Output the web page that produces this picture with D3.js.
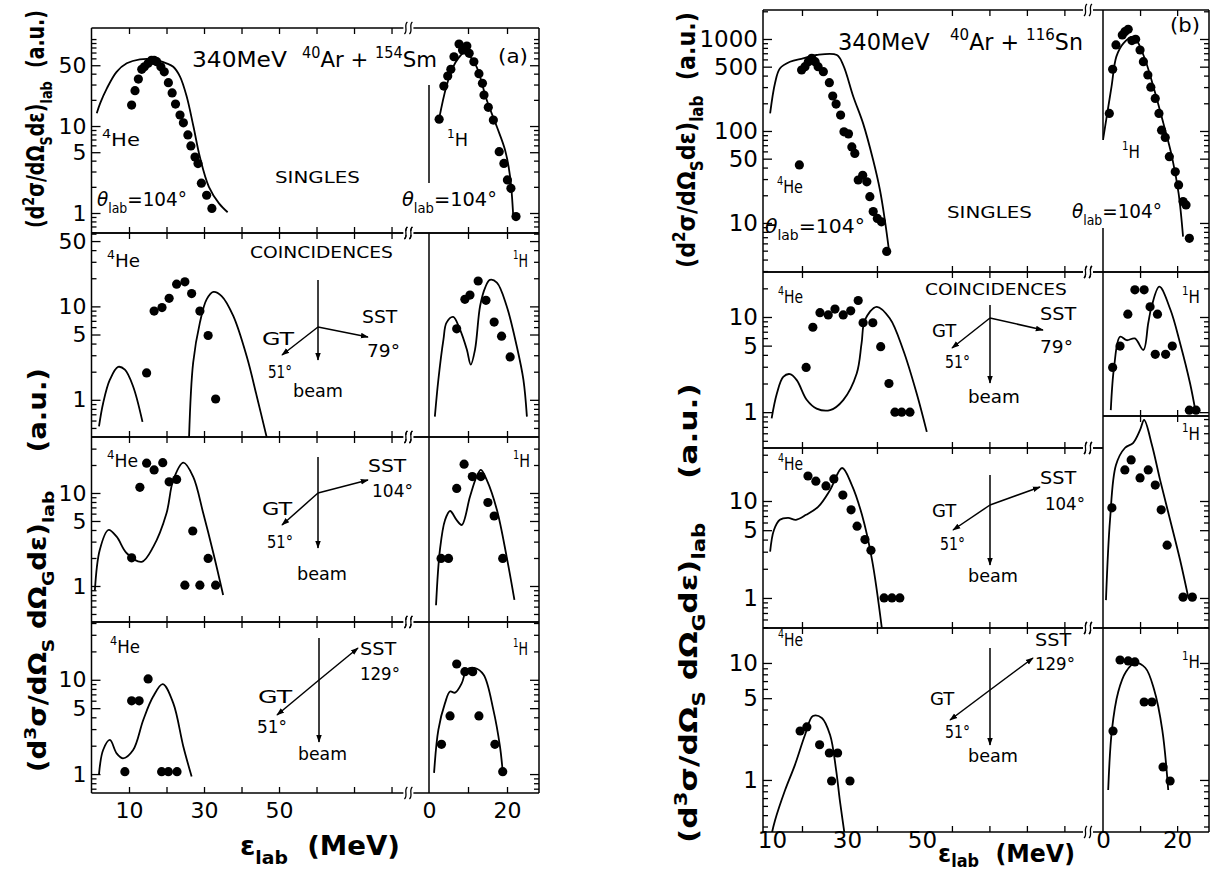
<!DOCTYPE html>
<html>
<head>
<meta charset="utf-8">
<script src="https://cdn.jsdelivr.net/npm/d3@7"></script>
<style>
  body { margin: 0; background: #fff; }
  svg { display: block; }
</style>
</head>
<body>
<script>
// energy spectra, [E_lab (MeV), yield (a.u.)]
// panel (a): 40Ar + 154Sm
const heA1 = [[10.7,17.4],[11.6,25.5],[12.5,34.7],[13.4,44.9],[14.1,48],[15.1,52.6],[16,57],[16.7,57],[17.4,55],[18.5,48],[19.4,42],[20.5,31.5],[21.5,24],[22.4,17.9],[23.6,13.4],[24.5,10.9],[25.7,7.9],[26.5,5.9],[27.6,4.4],[28.4,3.7],[29.3,2.2],[30.7,1.6],[32.1,1.13]];
const heA1Fit = [[1.4,14],[2.3,18.2],[4.1,27.1],[6.7,42],[9.4,52.6],[12.9,58.5],[16.5,58.5],[20,52.6],[21.8,48],[23.6,37],[25.4,21.7],[27.2,9.8],[28.9,4.4],[31.3,2.0],[34,1.29],[36.3,1.02]];
const hA1 = [[2.6,12],[3.8,28.8],[4.8,37.6],[5.6,44.9],[6.4,62.6],[7.7,87.7],[8.6,74.8],[9.7,83],[10.3,68.5],[11.5,54.8],[12.8,40],[13.7,31],[14.1,22.7],[15.2,16.4],[16.5,11.7],[18,5.07],[19.2,3.72],[20.1,2.4],[21,1.92],[22.3,0.91]];
const hA1Fit = [[2.6,12.2],[4.4,28],[6.2,48],[7.5,60],[8.8,68.5],[10.1,65.6],[12.2,48],[14.8,19.9],[17.4,9.8],[19.5,5.3],[20.8,2.6],[21.6,0.91]];

const heA2 = [[14.7,1.94],[16.7,8.9],[18.8,9.7],[20.7,12.2],[22.7,17.3],[24.9,18.3],[26.7,13.7],[28.9,8.9],[31.1,4.88],[33.1,1.02]];
const heA2FitLo = [[2,0.52],[3.1,0.92],[4.9,1.64],[7.1,2.25],[8.9,2.1],[11.1,1.39],[13.6,0.58]];
const heA2FitHi = [[26,0.38],[27.1,2.48],[28.9,6.7],[30.7,11.9],[32.5,14.3],[34.7,12.9],[37.8,7.9],[41.4,2.9],[44.1,1.08],[46.7,0.4]];
const hA2 = [[7.1,5.75],[9.2,11.9],[10.5,13.2],[12.6,18.7],[14.6,11.6],[16.7,6.8],[18.6,4.8],[20.8,2.88]];
const hA2Fit = [[1.5,0.66],[2.4,1.64],[3.7,4.4],[4.5,6.7],[6.2,7.7],[7.9,5.7],[9.7,3.45],[10.7,2.38],[11.8,3.45],[13.1,10.1],[14.4,15.9],[15.6,19.2],[17.4,18],[19.9,10.1],[22.5,3.74],[24.2,1.64],[25.1,0.66]];

const heA3 = [[10.7,2.01],[12.9,11.5],[14.7,20.9],[16.7,17.7],[19,21.2],[20.7,13.2],[22.7,14],[27,3.9],[24.9,1.02],[28.9,1.02],[31.1,1.98],[33.1,1.02]];
const heA3Fit = [[0.9,0.9],[2.2,2.44],[4.5,4],[6.7,3.39],[9.4,2.25],[13.4,1.82],[16.5,2.65],[20,6.05],[21.8,13.8],[24.5,21.2],[27.1,15],[29.8,6.05],[32.5,2.25],[35.1,0.8]];
const hA3 = [[3.1,1.98],[5,1.98],[7.1,11.2],[9,20.4],[11.1,15],[13.3,15],[15.1,7.9],[16.7,5.66],[18.9,1.98]];
const hA3Fit = [[1.8,0.62],[2.8,2.44],[4.1,5.1],[5.4,6.4],[7.1,5.1],[8.4,4.53],[10.5,9.1],[12.2,15],[13.3,17.7],[14.8,13.8],[17.4,6.6],[19.9,2.07],[21.9,0.71]];

const heA4 = [[8.9,1.06],[10.7,5.98],[12.7,5.98],[15.1,10.2],[18.7,1.06],[20.5,1.06],[22.8,1.06]];
const heA4Fit = [[2,1.0],[3.1,1.8],[4.9,2.3],[6.7,1.66],[8.4,1.47],[11.1,1.8],[13.8,3.75],[16.4,6.6],[19,9],[21.8,5.65],[24.5,1.95],[26.7,0.94]];
const hA4 = [[3.2,2.07],[5.4,4.14],[7.1,14.7],[9.2,12.2],[11.2,12.2],[12.8,4.14],[16.9,2.07],[18.9,1.06]];
const hA4Fit = [[1.3,1.03],[2.4,2.94],[4.1,5.65],[5.4,7.5],[6.7,7.3],[8.4,9.2],[9.7,12.8],[11.8,13.3],[14,11.3],[16.5,4.8],[18.2,1.95],[18.9,1.06]];

// panel (b): 40Ar + 116Sn
const heB1 = [[17.3,42.7],[17.9,460],[18.8,500],[19.7,566],[20.6,616],[21.5,566],[22.3,500],[23.7,441],[25.3,335],[26.2,240],[27.1,196],[28.3,149],[29.2,98],[30.4,93],[31.3,67],[32.1,57],[33,29.3],[34.2,33],[35.3,28],[36.1,19.3],[37,13.3],[38.1,11.2],[39.2,10.3],[40.6,4.9]];
const heB1Fit = [[9.5,155],[10.8,330],[12.1,478],[14.8,566],[18.3,616],[21.9,670],[27.3,670],[29,521],[31.7,236],[34.3,121],[37,48],[38.8,22.8],[40.1,10.8],[41.3,4.7]];
const hB1 = [[1.7,155],[2.6,469],[3.5,861],[5.2,1105],[5.9,1200],[6.8,1275],[7.8,960],[8.8,993],[10,759],[10.9,566],[12.1,406],[12.9,299],[14.1,226],[15.1,155],[15.8,102],[16.8,85],[17.9,52.6],[19.5,36],[20.4,25.9],[21.6,17.1],[22.4,15.7],[23.3,6.8]];
const hB1Fit = [[0,80],[1,143],[2.3,303],[3.6,643],[5.5,898],[8.2,1060],[10.9,670],[13.6,303],[16.3,121],[18.6,52.6],[20.4,21],[21.6,7.1]];

const heB2 = [[19.1,2.95],[20.9,7.8],[22.8,11.1],[25,10.5],[26.8,12.1],[29,10.5],[31,11.6],[33,14.9],[34.3,8.7],[36.9,8.7],[39,4.87],[41.2,2.0],[42.8,1.0],[44.6,1.0],[46.8,1.0]];
const heB2Fit = [[9.9,0.86],[11.3,1.57],[13,2.35],[14.8,2.51],[16.6,2.17],[19.3,1.34],[21.9,1.09],[25.5,1.05],[29,1.34],[32.6,2.55],[33.9,5.3],[34.8,9.3],[37.9,12.8],[41.4,9.7],[45,4.5],[48.6,1.57],[51.3,0.62]];
const hB2 = [[2.6,2.95],[4.6,4.95],[6.7,10.7],[8.6,19.3],[11.1,19.3],[12.7,12.8],[14.7,10.7],[14.1,4.05],[16.9,4.05],[18.7,4.95],[23.3,1.05],[25.1,1.05]];
const hB2Fit = [[2.1,1.05],[3,3.0],[4.6,6.2],[6.4,5.7],[8.6,5.95],[10.9,4.5],[12.2,8.6],[13.1,12.8],[15.2,20.8],[18.2,11.9],[20.8,5.3],[23.5,2.0],[24.9,1.05]];

const heB3 = [[19.6,18.1],[21.7,16],[24.4,14.3],[26.5,16.9],[28.9,11.5],[31.1,8.1],[32.7,5.5],[34.8,4.0],[36.4,3.1],[39.9,1.0],[42,1.0],[44.1,1.0]];
const heB3Fit = [[9.5,3.0],[10.5,5.0],[12.1,6.4],[14.3,6.7],[16.4,6.4],[19.1,7.2],[22.3,8.7],[25.5,13],[28.7,21.9],[31.3,14.6],[34,7.2],[36.7,2.46],[39.3,0.49]];
const hB3 = [[2.4,8.5],[5.9,20.9],[7.6,26.5],[10,17.3],[12.2,20.9],[14.1,14.6],[15.7,8.1],[17.3,3.5],[21.6,1.02],[24.1,1.02]];
const hB3Fit = [[0.8,0.95],[1.9,6.4],[3.5,23.5],[5.9,35.2],[8.1,39.6],[10,54],[11.1,68.4],[13.2,37.8],[15.4,16.5],[18.1,6.4],[20.8,2.46],[23,1.02]];

const heB4 = [[17.5,2.62],[19.3,2.84],[22.7,2.0],[25.3,1.7],[27.5,1.7],[25.9,0.98],[30.8,0.98]];
const heB4Fit = [[9.5,0.3],[10.8,0.45],[13.5,0.82],[16.1,1.34],[18.8,2.42],[20.9,3.52],[23.3,3.39],[25.5,2.42],[27.1,1.22],[28.1,0.67],[29.5,0.32]];
const hB4 = [[2.7,2.62],[4.6,10.6],[6.8,10.4],[8.6,10.2],[11.1,4.64],[13.2,4.64],[16.2,1.29],[18.1,0.98]];
const hB4Fit = [[1.4,0.82],[2.4,2.67],[4.1,5.65],[6.2,8.4],[8.6,10],[11.4,9.1],[13.8,5.9],[16,2.67],[17.6,0.82]];

// axes
const yDomA = [[0.589,134],[0.4,61],[0.41,40],[0.63,41]];
const yDomB = [[2.93,2066],[0.42,29.7],[0.49,35.2],[0.359,19.9]];
const yLabelsA = [[50,10,5,1],[50,10,5,1],[10,5,1],[10,5,1]];
const yLabelsB = [[1000,500,100,50,10],[10,5,1],[10,5,1],[10,5,1]];
const xTicksHeA = [10,20,30,40,50,60,70,80];
const xTicksHeB = [18,38,58,68,78,88];
const xTicksH = [10,20];
const xLabelsHe = [10,30,50];
const xLabelsH = [0,20];

const FONT = '"DejaVu Sans", sans-serif';
const svg = d3.select('body').append('svg')
  .attr('width', 1213).attr('height', 873)
  .style('font-family', FONT);
const defs = svg.append('defs');
defs.append('marker').attr('id', 'ah')
  .attr('viewBox', '0 0 10 10').attr('refX', 9).attr('refY', 5)
  .attr('markerWidth', 8).attr('markerHeight', 8)
  .attr('markerUnits', 'userSpaceOnUse').attr('orient', 'auto')
  .append('path').attr('d', 'M0,1.5L10,5L0,8.5Z');

function logTicks(lo, hi) {
  const out = [];
  for (let d = Math.floor(Math.log10(lo)); d <= Math.ceil(Math.log10(hi)); d++) {
    for (let k = 1; k < 10; k++) {
      const v = +(k * Math.pow(10, d)).toPrecision(3);
      if (v > lo * 1.01 && v < hi * 0.99) out.push(v);
    }
  }
  return out;
}

// text with sup/sub parts, stretched to span x0..x1
function rich(parent, parts, x0, x1, base, size, weight, subOff) {
  const t = parent.append('text').attr('x', x0).attr('y', base)
    .attr('font-size', size).attr('font-weight', weight || 'normal')
    .style('white-space', 'pre');
  let cur = 0;
  parts.forEach(([s, k]) => {
    const off = k === 'sup' ? -0.42 * size : k === 'sub' ? (subOff || 0.33) * size : 0;
    t.append('tspan').attr('dy', off - cur)
      .attr('font-size', (k === 'sup' || k === 'sub') ? size * 0.68 : size)
      .attr('font-style', k === 'i' ? 'italic' : null)
      .text(s);
    cur = off;
  });
  if (x1 != null) {
    const w = t.node().getBBox().width;
    const k = (x1 - x0) / w;
    t.attr('transform', `translate(${x0},${base}) scale(${k},1) translate(${-x0},${-base})`);
  }
  return t;
}

function vtitle(parts, xBase, yBot, yTop, size) {
  const g = svg.append('g').attr('transform', `translate(${xBase},${yBot}) rotate(-90)`);
  rich(g, parts, 0, yBot - yTop, 0, size, 'bold');
}

function line(x1, y1, x2, y2, arrow) {
  svg.append('line').attr('x1', x1).attr('y1', y1).attr('x2', x2).attr('y2', y2)
    .attr('stroke', '#000').attr('stroke-width', 1.5)
    .attr('marker-end', arrow ? 'url(#ah)' : null);
}

function brk(x, y) {
  svg.append('rect').attr('x', x - 5).attr('y', y - 2).attr('width', 10).attr('height', 4).attr('fill', '#fff');
  [-2.5, 2.5].forEach(dx => {
    svg.append('path')
      .attr('d', `M${x + dx - 1.5},${y + 6} C${x + dx + 2.5},${y + 3} ${x + dx - 2.5},${y - 3} ${x + dx + 1.5},${y - 6}`)
      .attr('fill', 'none').attr('stroke', '#000').attr('stroke-width', 1.3);
  });
}

function cleanAxis(g, fs) {
  g.select('.domain').remove();
  g.attr('font-family', FONT).attr('font-size', fs);
  g.selectAll('line').attr('stroke-width', 1.3);
}

function yAxis(gen, x, y, band, labels, fs, show) {
  const lo = y.invert(band[1]), hi = y.invert(band[0]);
  const major = labels.filter(v => v > lo && v < hi);
  const minor = logTicks(lo, hi).filter(v => !major.includes(v));
  svg.append('g').attr('transform', `translate(${x},0)`)
    .call(gen(y).tickValues(minor).tickSizeInner(-5).tickSizeOuter(0).tickFormat(''))
    .call(g => cleanAxis(g, fs));
  svg.append('g').attr('transform', `translate(${x},0)`)
    .call(gen(y).tickValues(major).tickSizeInner(-9).tickSizeOuter(0).tickPadding(5)
      .tickFormat(show ? d => d : ''))
    .call(g => cleanAxis(g, fs));
}

function xTicks(x, vals, band) {
  [[d3.axisTop, band[0]], [d3.axisBottom, band[1]]].forEach(([gen, yy]) => {
    svg.append('g').attr('transform', `translate(0,${yy})`)
      .call(gen(x).tickValues(vals).tickSizeInner(-6).tickSizeOuter(0).tickFormat(''))
      .call(g => cleanAxis(g, 10));
  });
}

function xLabels(x, vals, yy, pad, fs) {
  svg.append('g').attr('transform', `translate(0,${yy})`)
    .call(d3.axisBottom(x).tickValues(vals).tickSize(0).tickPadding(pad))
    .call(g => cleanAxis(g, fs));
}

function series(pts, fits, x, y, clip) {
  const ln = d3.line().x(d => x(d[0])).y(d => y(d[1])).curve(d3.curveCatmullRom.alpha(0.5));
  fits.forEach(f => {
    svg.append('path').datum(f).attr('d', ln)
      .attr('fill', 'none').attr('stroke', '#000').attr('stroke-width', 1.8)
      .attr('clip-path', `url(#${clip})`);
  });
  svg.append('g').selectAll('circle').data(pts).join('circle')
    .attr('cx', d => x(d[0])).attr('cy', d => y(d[1])).attr('r', 4.6).attr('fill', '#000');
}

function drawFig(f) {
  const [x0, xb] = f.he.range();
  const [xh, x1] = f.h.range();
  f.rows.forEach((r, i) => {
    const y = d3.scaleLog().domain(r.dom).range([r.he[1], r.he[0]]);
    const id = f.id + i;
    defs.append('clipPath').attr('id', 'he' + id).append('rect')
      .attr('x', x0).attr('y', r.he[0]).attr('width', xb - x0).attr('height', r.he[1] - r.he[0]);
    defs.append('clipPath').attr('id', 'h' + id).append('rect')
      .attr('x', xh).attr('y', r.h[0]).attr('width', x1 - xh).attr('height', r.h[1] - r.h[0]);
    series(r.hePts, r.heFit, f.he, y, 'he' + id);
    series(r.hPts, r.hFit, f.h, y, 'h' + id);
    yAxis(d3.axisLeft, x0, y, r.he, r.labels, f.fs, true);
    yAxis(d3.axisRight, x1, y, r.h, r.labels, f.fs, false);
    xTicks(f.he, f.heTicks, r.he);
    xTicks(f.h, xTicksH, r.h);
    if (i === f.rows.length - 1) {
      xLabels(f.he, xLabelsHe, r.he[1], f.pad, f.fs);
      xLabels(f.h, xLabelsH, r.h[1], f.pad, f.fs);
    }
    line(x0, r.he[0], xh, r.he[0]); line(x0, r.he[1], xh, r.he[1]);
    line(xh, r.h[0], x1, r.h[0]); line(xh, r.h[1], x1, r.h[1]);
    line(x0, r.he[0], x0, r.he[1]); line(x1, r.h[0], x1, r.h[1]);
    (r.hLeft || [r.h]).forEach(s => line(xh, s[0], xh, s[1]));
    brk(xb, r.he[0]); brk(xb, r.he[1]);
  });
}

drawFig({
  id: 'a', fs: 22, pad: 9,
  he: d3.scaleLinear().domain([0, 84.5]).range([91.5, 408.4]),
  h: d3.scaleLinear().domain([0, 28.2]).range([429, 539]),
  heTicks: xTicksHeA,
  rows: [
    {dom: yDomA[0], he: [28, 233], h: [28, 233], labels: yLabelsA[0], hePts: heA1, heFit: [heA1Fit], hPts: hA1, hFit: [hA1Fit], hLeft: [[85, 183]]},
    {dom: yDomA[1], he: [233, 437], h: [233, 437], labels: yLabelsA[1], hePts: heA2, heFit: [heA2FitLo, heA2FitHi], hPts: hA2, hFit: [hA2Fit]},
    {dom: yDomA[2], he: [437, 622], h: [437, 622], labels: yLabelsA[2], hePts: heA3, heFit: [heA3Fit], hPts: hA3, hFit: [hA3Fit]},
    {dom: yDomA[3], he: [622, 793], h: [622, 793], labels: yLabelsA[3], hePts: heA4, heFit: [heA4Fit], hPts: hA4, hFit: [hA4Fit]}
  ]
});

drawFig({
  id: 'b', fs: 23, pad: 0,
  he: d3.scaleLinear().domain([7.6, 94.3]).range([763, 1088]),
  h: d3.scaleLinear().domain([0, 28.6]).range([1103, 1209]),
  heTicks: xTicksHeB,
  rows: [
    {dom: yDomB[0], he: [10, 272], h: [10, 272], labels: yLabelsB[0], hePts: heB1, heFit: [heB1Fit], hPts: hB1, hFit: [hB1Fit], hLeft: [[10, 140], [228, 272]]},
    {dom: yDomB[1], he: [272, 448], h: [272, 416], labels: yLabelsB[1], hePts: heB2, heFit: [heB2Fit], hPts: hB2, hFit: [hB2Fit]},
    {dom: yDomB[2], he: [448, 628], h: [416, 628], labels: yLabelsB[2], hePts: heB3, heFit: [heB3Fit], hPts: hB3, hFit: [hB3Fit]},
    {dom: yDomB[3], he: [628, 832], h: [628, 832], labels: yLabelsB[3], hePts: heB4, heFit: [heB4Fit], hPts: hB4, hFit: [hB4Fit]}
  ]
});

// annotations
const he4 = [['4', 'sup'], ['He', 'n']];
const h1 = [['1', 'sup'], ['H', 'n']];
const theta = [['θ', 'i'], ['lab', 'sub'], ['=104°', 'n']];
const t = s => [[s, 'n']];
const notes = [
  // (a)
  [t('340MeV'), 192, 287, 67, 22], [[['40', 'sup'], ['Ar + ', 'n'], ['154', 'sup'], ['Sm', 'n']], 302, 437, 67, 22],
  [t('(a)'), 498, 528, 63, 20],
  [he4, 102, 140, 146, 18], [theta, 97, 187, 206, 20], [t('SINGLES'), 275, 360, 183, 16],
  [h1, 447, 468, 146, 18], [theta, 402, 497, 206, 20],
  [he4, 107, 140, 267, 18], [t('COINCIDENCES'), 250, 393, 258, 16],
  [t('GT'), 262, 295, 345, 17], [t('51°'), 268, 292, 378, 17], [t('beam'), 293, 343, 397, 17],
  [t('SST'), 362, 398, 323, 17], [t('79°'), 367, 400, 357, 17], [h1, 513, 528, 267, 18],
  [he4, 107, 138, 467, 18], [t('GT'), 262, 293, 515, 17], [t('51°'), 267, 293, 548, 17],
  [t('beam'), 297, 347, 580, 17], [t('SST'), 368, 407, 472, 17], [t('104°'), 372, 413, 497, 17],
  [h1, 513, 530, 467, 18],
  [he4, 110, 140, 653, 18], [t('GT'), 258, 293, 703, 17], [t('51°'), 257, 287, 733, 17],
  [t('beam'), 298, 347, 760, 17], [t('SST'), 360, 397, 655, 17], [t('129°'), 360, 400, 680, 17],
  [h1, 513, 528, 655, 18],
  // (b)
  [t('340MeV'), 838, 930, 50, 23], [[['40', 'sup'], ['Ar + ', 'n'], ['116', 'sup'], ['Sn', 'n']], 950, 1083, 50, 23],
  [t('(b)'), 1170, 1200, 32, 20],
  [he4, 777, 803, 193, 18], [theta, 765, 865, 233, 20], [t('SINGLES'), 947, 1032, 218, 16],
  [h1, 1122, 1140, 158, 18], [theta, 1072, 1162, 218, 20],
  [he4, 778, 803, 303, 18], [t('COINCIDENCES'), 925, 1067, 295, 16],
  [t('GT'), 932, 957, 337, 17], [t('51°'), 945, 970, 368, 17], [t('beam'), 968, 1020, 403, 17],
  [t('SST'), 1040, 1077, 320, 17], [t('79°'), 1040, 1073, 353, 17], [h1, 1182, 1200, 303, 18],
  [he4, 778, 803, 470, 18], [t('GT'), 932, 957, 517, 17], [t('51°'), 940, 965, 550, 17],
  [t('beam'), 968, 1018, 582, 17], [t('SST'), 1040, 1077, 484, 17], [t('104°'), 1045, 1085, 510, 17],
  [h1, 1182, 1200, 440, 18],
  [he4, 778, 803, 646, 18], [t('SST'), 1035, 1072, 646, 17], [t('129°'), 1035, 1075, 670, 17],
  [t('GT'), 930, 955, 705, 17], [t('51°'), 945, 970, 738, 17], [t('beam'), 968, 1018, 762, 17],
  [h1, 1182, 1200, 668, 18]
];
notes.forEach(([parts, x0, x1, base, size]) => rich(svg, parts, x0, x1, base, size));

// detector geometry sketches: [junction, GT end, SST end, beam top, beam bottom]
const sketches = [
  [[318, 327], [282, 355], [368, 337], 280, 360],
  [[318, 493], [282, 525], [368, 480], 457, 548],
  [[319, 680], [277, 715], [358, 648], 638, 742],
  [[990, 318], [952, 348], [1043, 330], 305, 383],
  [[990, 505], [953, 530], [1040, 487], 475, 565],
  [[990, 690], [950, 720], [1033, 658], 648, 745]
];
sketches.forEach(([j, gt, sst, top, bot]) => {
  line(j[0], top, j[0], bot, true);
  line(j[0], j[1], gt[0], gt[1], true);
  line(j[0], j[1], sst[0], sst[1], true);
});

// axis titles
const upper = [['(d', 'n'], ['2', 'sup'], ['σ/dΩ', 'n'], ['S', 'sub'], ['dε)', 'n'], ['lab', 'sub'], ['  (a.u.)', 'n']];
const lower = [['(d', 'n'], ['3', 'sup'], ['σ/dΩ', 'n'], ['S', 'sub'], [' dΩ', 'n'], ['G', 'sub'], ['dε)', 'n'], ['lab', 'sub'], ['    (a.u.)', 'n']];
vtitle(upper, 44, 228, 10, 24);
vtitle(lower, 46, 772, 368, 24);
vtitle(upper, 695, 268, 12, 25);
vtitle(lower, 697, 843, 383, 25);

const eTitle = [['ε', 'n'], ['lab', 'sub'], ['  (MeV)', 'n']];
rich(svg, eTitle, 240, 400, 855, 27, 'bold');
rich(svg, eTitle, 938, 1075, 862, 25, 'bold', 0.22);
</script>
</body>
</html>
